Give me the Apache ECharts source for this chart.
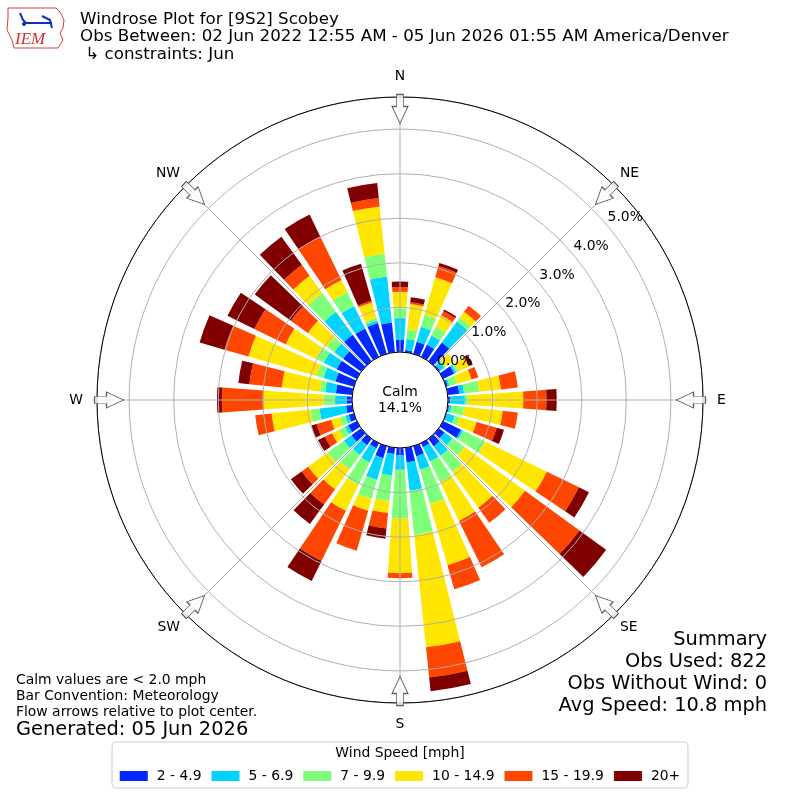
<!DOCTYPE html>
<html>
<head>
<meta charset="utf-8">
<title>Windrose Plot for [9S2] Scobey</title>
<script src="https://cdn.jsdelivr.net/npm/echarts@6/dist/echarts.min.js"></script>
<style>
    html, body { margin: 0; padding: 0; background: #fff; }
    #main { width: 800px; height: 800px; }
</style>
</head>
<body>
<div id="main"></div>
<script>
// direction bins (degrees, meteorological convention, bin centres)
var directions = ['0', '10', '20', '30', '40', '50', '60', '70', '80', '90', '100', '110',
    '120', '130', '140', '150', '160', '170', '180', '190', '200', '210', '220', '230',
    '240', '250', '260', '270', '280', '290', '300', '310', '320', '330', '340', '350'];

var speedBins = ['2 - 4.9', '5 - 6.9', '7 - 9.9', '10 - 14.9', '15 - 19.9', '20+'];

// frequency [%] per direction for each speed bin
var freq2to5 = [0.27, 0.05, 0.28, 0.30, 0.52, 0.04, 0.28, 0.04, 0.26, 0.05, 0.03, 0.02,
    0.45, 0.16, 0.21, 0.10, 0.24, 0.33, 0.16, 0.14, 0.28, 0.13, 0.18, 0.27,
    0.22, 0.12, 0.14, 0.12, 0.37, 0.43, 0.50, 0.50, 0.73, 0.71, 0.72, 0.67];
var freq5to7 = [0.49, 0.25, 0.35, 0.23, 0.58, 0.11, 0.05, 0.04, 0.11, 0.33, 0.05, 0.18,
    0.05, 0.22, 0.26, 0.36, 0.31, 0.64, 0.33, 0.49, 0.51, 0.35, 0.27, 0.21,
    0.08, 0.08, 0.60, 0.26, 0.24, 0.28, 0.33, 0.25, 0.64, 0.56, 0.06, 1.04];
var freq7to10 = [0.22, 0.22, 0.28, 0.22, 0.11, 0.05, 0.05, 0.17, 0.34, 0.07, 0.29, 0.12,
    0.55, 0.34, 0.45, 0.52, 0.80, 0.99, 1.09, 0.57, 0.44, 0.56, 0.40, 0.45,
    0.15, 0.13, 0.20, 0.26, 0.12, 0.16, 0.19, 0.20, 0.52, 0.35, 0.06, 0.51];
var freq10to15 = [0.37, 0.57, 0.88, 0.28, 0.16, 0.22, 0.26, 0.34, 0.49, 1.24, 0.87, 0.39,
    1.54, 1.67, 0.99, 0.96, 1.43, 2.54, 1.23, 0.27, 0.28, 0.65, 0.55, 0.54,
    0.17, 0.20, 0.88, 1.35, 0.86, 1.59, 0.76, 0.53, 0.48, 0.30, 0.36, 1.07];
var freq15to20 = [0.11, 0.04, 0.26, 0.11, 0.17, 0, 0.02, 0.16, 0.38, 0.52, 0.34, 0.47,
    0.80, 1.51, 0.42, 1.16, 0.56, 0.68, 0.11, 0.35, 0.93, 1.25, 0.42, 0.18,
    0.18, 0.34, 0.37, 0.93, 0.73, 0.56, 0.78, 0.47, 0.30, 1.08, 0.04, 0.19];
var freq20up = [0.12, 0.11, 0.07, 0.04, 0, 0, 0.08, 0, 0, 0.23, 0, 0.17,
    0.25, 0.74, 0, 0, 0, 0.31, 0, 0.23, 0, 0.50, 0.54, 0.30,
    0.17, 0.12, 0, 0.11, 0.25, 0.58, 0.67, 1.00, 0.78, 0.55, 0.86, 0.34];

var compassLabels = ['N', 'NE', 'E', 'SE', 'S', 'SW', 'W', 'NW'];
var arrowDirs = [0, 45, 90, 135, 180, 225, 270, 315];

var calmPct = 14.1;
var obsUsed = 822;
var obsWithoutWind = 0;
var avgSpeed = 10.8;

var binColors = ['#0028ff', '#00d4ff', '#7dff7a', '#ffe600', '#ff4600', '#800000'];
var font = 'DejaVu Sans';
var rMax = 5.72;

(function () {
    var myChart = echarts.init(document.getElementById('main'));

    var binData = [freq2to5, freq5to7, freq7to10, freq10to15, freq15to20, freq20up];
    var series = [];
    for (var i = 0; i < speedBins.length; i++) {
        series.push({
            name: speedBins[i],
            type: 'bar',
            coordinateSystem: 'polar',
            polarIndex: 0,
            stack: 'speed',
            barCategoryGap: '20%',
            itemStyle: {color: binColors[i]},
            data: binData[i],
            z: 2
        });
    }

    // direction arrows on the outer ring
    var arrows = [];
    for (var j = 0; j < arrowDirs.length; j++) {
        arrows.push({value: [5.45, arrowDirs[j]], symbolRotate: -arrowDirs[j]});
    }
    series.push({
        name: 'arrows',
        type: 'scatter',
        coordinateSystem: 'polar',
        polarIndex: 1,
        symbol: 'path://M4.5,0 L11.5,0 L11.5,12 L16,12 L8,29 L0,12 L4.5,12 Z',
        symbolSize: [16, 29],
        itemStyle: {color: '#fff', borderColor: '#333', borderWidth: 1},
        silent: true,
        clip: false,
        data: arrows,
        z: 10
    });

    var small = '13.9px "DejaVu Sans"';
    var big = '19.4px "DejaVu Sans"';
    var head = '16.7px "DejaVu Sans"';

    var option = {
        animation: false,
        textStyle: {fontFamily: font},
        polar: [
            {center: [400, 400], radius: [48, 303]},
            {center: [400, 400], radius: [48, 303]},
            // only carries the % labels, nudged off the rings like the original
            {center: [418, 392], radius: [48, 303]}
        ],
        angleAxis: [
            {
                polarIndex: 0,
                type: 'category',
                data: directions,
                startAngle: 95,
                clockwise: true,
                show: false
            },
            {
                polarIndex: 1,
                type: 'value',
                min: 0,
                max: 360,
                interval: 45,
                startAngle: 90,
                clockwise: true,
                z: 5,
                axisLine: {lineStyle: {color: '#000', width: 1}},
                axisTick: {show: false},
                axisLabel: {
                    margin: 8,
                    fontSize: 13.9,
                    color: '#000',
                    fontFamily: font,
                    formatter: function (v) {
                        if (v >= 360) {
                            return '';
                        }
                        var k = v / 45;
                        // cardinal points sit a little further out than the diagonals
                        return (k % 2 === 0 ? '{c|' : '{d|') + compassLabels[k] + '}';
                    },
                    rich: {
                        c: {padding: [6, 6, 6, 6], fontSize: 13.9, fontFamily: font, color: '#000'},
                        d: {padding: [0, 0, 0, 0], fontSize: 13.9, fontFamily: font, color: '#000'}
                    }
                },
                splitLine: {show: true, lineStyle: {color: '#b0b0b0', width: 1}}
            },
            {
                polarIndex: 2,
                type: 'value',
                min: 0,
                max: 360,
                startAngle: 40.1,
                show: false
            }
        ],
        radiusAxis: [
            {
                polarIndex: 0,
                type: 'value',
                min: 0,
                max: rMax,
                show: false
            },
            {
                polarIndex: 1,
                type: 'value',
                min: 0,
                max: rMax,
                interval: 1,
                z: 5,
                axisLine: {show: false},
                axisTick: {show: false},
                axisLabel: {show: false},
                splitLine: {show: true, lineStyle: {color: '#b0b0b0', width: 1}}
            },
            {
                polarIndex: 2,
                type: 'value',
                min: 0,
                max: rMax,
                interval: 1,
                z: 6,
                axisLine: {show: false},
                axisTick: {show: false},
                splitLine: {show: false},
                axisLabel: {
                    margin: 0,
                    align: 'center',
                    verticalAlign: 'middle',
                    fontSize: 13.9,
                    color: '#000',
                    fontFamily: font,
                    showMaxLabel: false,
                    formatter: function (v) {
                        return v > 5.5 ? '' : v.toFixed(1) + '%';
                    }
                }
            }
        ],
        legend: {
            data: speedBins,
            left: 'center',
            top: 769,
            padding: 0,
            icon: 'rect',
            itemWidth: 28,
            itemHeight: 10,
            itemGap: 10,
            textStyle: {fontSize: 13.9, color: '#000', fontFamily: font, padding: [0, 0, 0, 4]}
        },
        graphic: [
            // IEM logo
            {type: 'polyline', silent: true, shape: {points: [[8, 8], [56, 8], [60, 12], [64, 20], [63, 28], [60, 33], [63, 40], [58, 48], [14, 48], [12, 40], [7, 30], [8, 18], [8, 8]]},
                style: {stroke: '#d04040', fill: null, lineWidth: 1}},
            {type: 'polyline', silent: true, shape: {points: [[20, 13], [23, 20], [26, 23], [52, 23]]}, style: {stroke: '#1030c0', fill: null, lineWidth: 2}},
            {type: 'polyline', silent: true, shape: {points: [[42, 16], [50, 20], [52, 28]]}, style: {stroke: '#1030c0', fill: null, lineWidth: 2}},
            {type: 'circle', silent: true, shape: {cx: 24, cy: 24, r: 2}, style: {fill: '#1030c0'}},
            {type: 'text', silent: true, x: 15, y: 40, style: {text: 'IEM', font: 'italic 17px "Liberation Serif"', fill: '#d03030', textVerticalAlign: 'middle'}},

            // title block
            {type: 'text', x: 80, y: 20, style: {text: 'Windrose Plot for [9S2] Scobey', font: head, fill: '#000', textVerticalAlign: 'middle'}},
            {type: 'text', x: 80, y: 37, style: {text: 'Obs Between: 02 Jun 2022 12:55 AM - 05 Jun 2026 01:55 AM America/Denver', font: head, fill: '#000', textVerticalAlign: 'middle'}},
            {type: 'text', x: 80, y: 55, style: {text: ' \u21b3 constraints: Jun', font: head, fill: '#000', textVerticalAlign: 'middle'}},

            // calm circle
            {type: 'circle', silent: true, z: 1, shape: {cx: 400, cy: 400, r: 48}, style: {fill: '#fff'}},
            {type: 'text', x: 400, y: 392, z: 20, style: {text: 'Calm', font: small, fill: '#000', textAlign: 'center', textVerticalAlign: 'middle'}},
            {type: 'text', x: 400, y: 408, z: 20, style: {text: calmPct.toFixed(1) + '%', font: small, fill: '#000', textAlign: 'center', textVerticalAlign: 'middle'}},

            // summary
            {type: 'text', x: 767, y: 640, style: {text: 'Summary', font: big, fill: '#000', textAlign: 'right', textVerticalAlign: 'middle'}},
            {type: 'text', x: 767, y: 662, style: {text: 'Obs Used: ' + obsUsed, font: big, fill: '#000', textAlign: 'right', textVerticalAlign: 'middle'}},
            {type: 'text', x: 767, y: 684, style: {text: 'Obs Without Wind: ' + obsWithoutWind, font: big, fill: '#000', textAlign: 'right', textVerticalAlign: 'middle'}},
            {type: 'text', x: 767, y: 706, style: {text: 'Avg Speed: ' + avgSpeed.toFixed(1) + ' mph', font: big, fill: '#000', textAlign: 'right', textVerticalAlign: 'middle'}},

            // notes
            {type: 'text', x: 16, y: 680, style: {text: 'Calm values are < 2.0 mph', font: small, fill: '#000', textVerticalAlign: 'middle'}},
            {type: 'text', x: 16, y: 696, style: {text: 'Bar Convention: Meteorology', font: small, fill: '#000', textVerticalAlign: 'middle'}},
            {type: 'text', x: 16, y: 712, style: {text: 'Flow arrows relative to plot center.', font: small, fill: '#000', textVerticalAlign: 'middle'}},
            {type: 'text', x: 16, y: 730, style: {text: 'Generated: 05 Jun 2026', font: big, fill: '#000', textVerticalAlign: 'middle'}},

            // legend frame + title
            {type: 'rect', silent: true, z: -1, shape: {x: 112, y: 742, width: 576, height: 46, r: 4}, style: {fill: '#fff', stroke: '#cccccc', lineWidth: 1}},
            {type: 'text', x: 400, y: 753, style: {text: 'Wind Speed [mph]', font: small, fill: '#000', textAlign: 'center', textVerticalAlign: 'middle'}}
        ],
        series: series
    };
    myChart.setOption(option);
})();
</script>
</body>
</html>
